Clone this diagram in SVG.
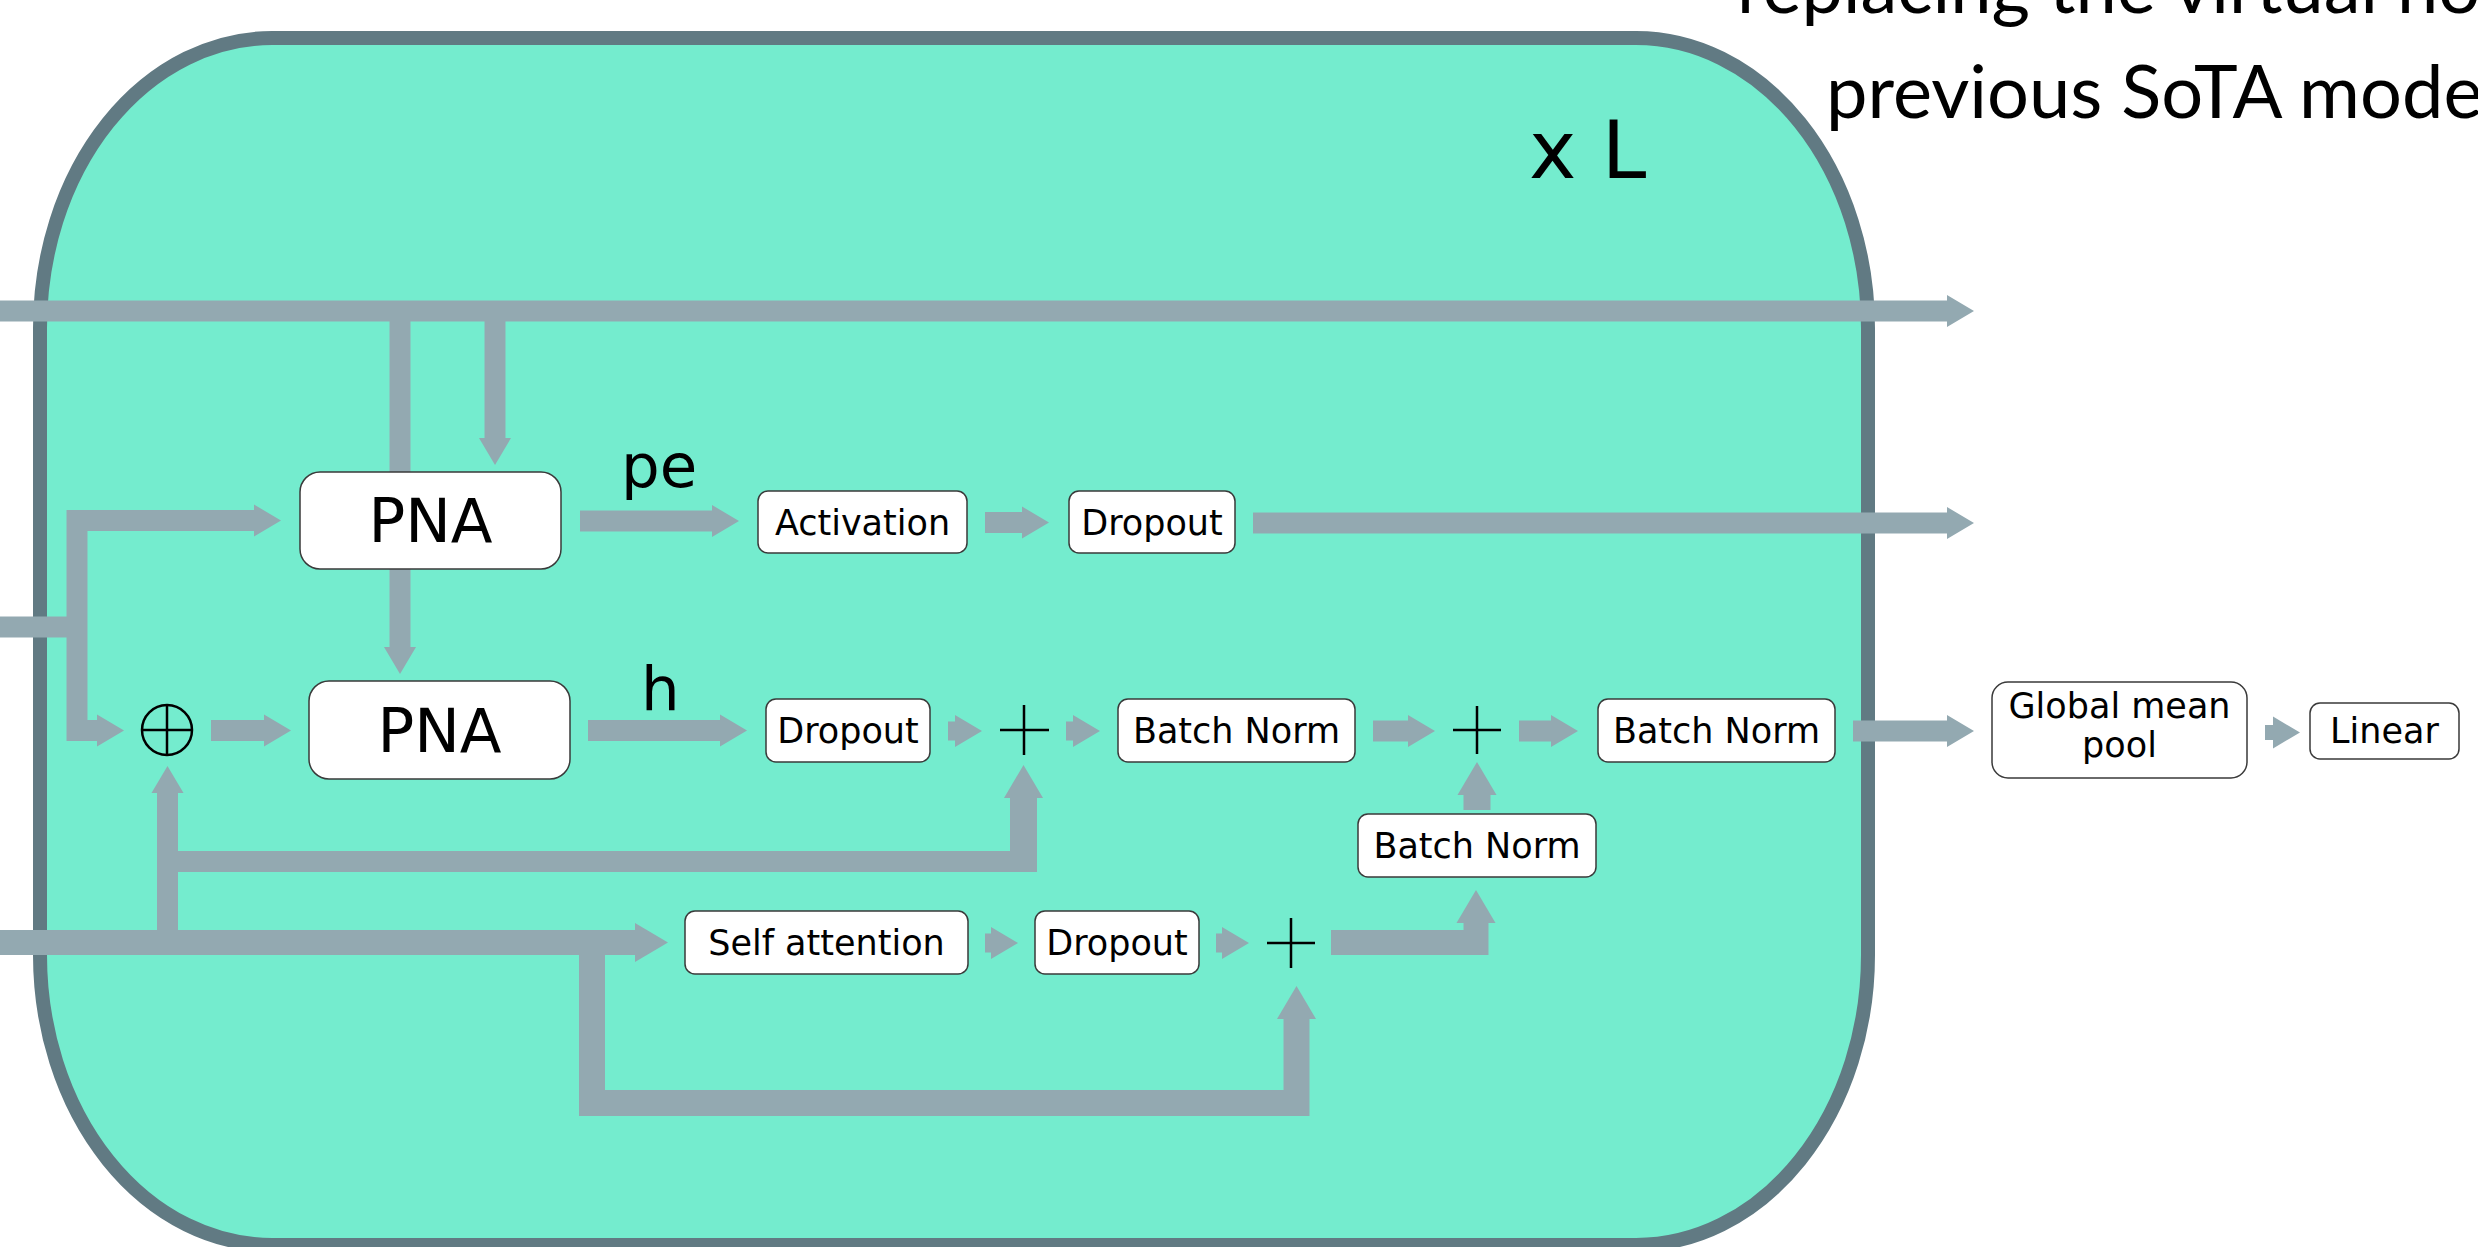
<svg xmlns="http://www.w3.org/2000/svg" width="2478" height="1247" viewBox="0 0 2478 1247">
<style>
.box{fill:#ffffff;stroke:#3a3a3a;stroke-width:1.5}
.lbl{font-family:"DejaVu Sans",sans-serif;font-size:35px;fill:#000;text-anchor:middle}
.big{font-family:"DejaVu Sans",sans-serif;font-size:61px;fill:#000}
.ln{fill:none;stroke:#93a9b1;stroke-linecap:butt;stroke-linejoin:miter}
.w21{stroke-width:21}
.w19{stroke-width:19}
.w25{stroke-width:25}
.w27{stroke-width:27}
.op{fill:none;stroke:#000;stroke-width:2.5}
.note{font-family:Lato,"Open Sans",sans-serif;font-size:74px;fill:#000}
</style>
<defs>
<marker id="ah" markerUnits="userSpaceOnUse" markerWidth="28" markerHeight="32" refX="0" refY="16" orient="auto" overflow="visible">
<path d="M0,0 L27,16 L0,32 Z" fill="#93a9b1"/>
</marker>
<marker id="ahb" markerUnits="userSpaceOnUse" markerWidth="34" markerHeight="40" refX="0" refY="19.5" orient="auto" overflow="visible">
<path d="M0,0 L33,19.5 L0,39 Z" fill="#93a9b1"/>
</marker>
</defs>
<rect width="2478" height="1247" fill="#ffffff"/>
<g id="text-note">
<text class="note" x="1737" y="13">replacing the virtual node</text>
<text class="note" x="1826" y="118">previous SoTA model</text>
</g>
<g id="container">
<rect x="40" y="38" width="1828" height="1207" rx="232" ry="290" fill="#74ecce" stroke="#617a83" stroke-width="14"/>
<text class="big" x="1529" y="178" style="font-size:80px">x L</text>
</g>
<g id="connectors">
<path class="ln w21" d="M0,311 H1947" marker-end="url(#ah)"/>
<path class="ln w21" d="M400,311 V647" marker-end="url(#ah)"/>
<path class="ln w21" d="M495,311 V438" marker-end="url(#ah)"/>
<path class="ln w21" d="M0,627 H80"/>
<path class="ln w21" d="M77,741 V520.5 H254" marker-end="url(#ah)"/>
<path class="ln w21" d="M67,730.5 H97" marker-end="url(#ah)"/>
<path class="ln w21" d="M211,730.5 H264" marker-end="url(#ah)"/>
<path class="ln w21" d="M167.5,955 V793" marker-end="url(#ah)"/>
<path class="ln w21" d="M157,861.5 H1037"/>
<path class="ln w27" d="M1023.5,872 V798" marker-end="url(#ahb)"/>
<path class="ln w21" d="M580,521 H712" marker-end="url(#ah)"/>
<path class="ln w21" d="M985,522.5 H1022" marker-end="url(#ah)"/>
<path class="ln w21" d="M1253,523 H1947" marker-end="url(#ah)"/>
<path class="ln w21" d="M588,730.5 H720" marker-end="url(#ah)"/>
<path class="ln w19" d="M948,731 H955" marker-end="url(#ah)"/>
<path class="ln w19" d="M1066,731 H1073" marker-end="url(#ah)"/>
<path class="ln w21" d="M1373,731 H1408" marker-end="url(#ah)"/>
<path class="ln w21" d="M1519,731 H1551" marker-end="url(#ah)"/>
<path class="ln w21" d="M1853,731 H1947" marker-end="url(#ah)"/>
<path class="ln" stroke-width="15" d="M2265,732.5 H2273" marker-end="url(#ah)"/>
<path class="ln w27" d="M1477,810 V795" marker-end="url(#ahb)"/>
<path class="ln w25" d="M0,942.5 H635" marker-end="url(#ahb)"/>
<path class="ln w19" d="M985,943 H991" marker-end="url(#ah)"/>
<path class="ln w19" d="M1216,943 H1222" marker-end="url(#ah)"/>
<path class="ln" stroke-width="26" d="M592,955 V1103 H1296.5 V1019" marker-end="url(#ahb)"/>
<path class="ln w25" d="M1331,942.5 H1476 V923" marker-end="url(#ahb)"/>
</g>
<g id="oplus">
<circle class="op" cx="167" cy="730" r="25"/>
<path class="op" d="M142,730 H192 M167,705 V755"/>
</g>
<g id="plus1"><path class="op" d="M1000,730 H1049 M1024,705 V755"/></g>
<g id="plus2"><path class="op" d="M1453,730 H1501 M1477,706 V754"/></g>
<g id="plus3"><path class="op" d="M1267,943 H1315 M1291,918 V968"/></g>
<g id="pna1">
<rect class="box" x="300" y="472" width="261" height="97" rx="20"/>
<text class="big" x="430.5" y="542" text-anchor="middle">PNA</text>
</g>
<g id="pna2">
<rect class="box" x="309" y="681" width="261" height="98" rx="20"/>
<text class="big" x="439.5" y="752" text-anchor="middle">PNA</text>
</g>
<g id="label-pe"><text class="big" x="621" y="487">pe</text></g>
<g id="label-h"><text class="big" x="641" y="710">h</text></g>
<g id="activation">
<rect class="box" x="758" y="491" width="209" height="62" rx="10"/>
<text class="lbl" x="862.5" y="535">Activation</text>
</g>
<g id="dropout1">
<rect class="box" x="1069" y="491" width="166" height="62" rx="10"/>
<text class="lbl" x="1152" y="535">Dropout</text>
</g>
<g id="dropout2">
<rect class="box" x="766" y="699" width="164" height="63" rx="10"/>
<text class="lbl" x="848" y="743">Dropout</text>
</g>
<g id="batchnorm1">
<rect class="box" x="1118" y="699" width="237" height="63" rx="10"/>
<text class="lbl" x="1236.5" y="743">Batch Norm</text>
</g>
<g id="batchnorm2">
<rect class="box" x="1598" y="699" width="237" height="63" rx="10"/>
<text class="lbl" x="1716.5" y="743">Batch Norm</text>
</g>
<g id="batchnorm3">
<rect class="box" x="1358" y="814" width="238" height="63" rx="10"/>
<text class="lbl" x="1477" y="858">Batch Norm</text>
</g>
<g id="selfattention">
<rect class="box" x="685" y="911" width="283" height="63" rx="10"/>
<text class="lbl" x="826.5" y="955">Self attention</text>
</g>
<g id="dropout3">
<rect class="box" x="1035" y="911" width="164" height="63" rx="10"/>
<text class="lbl" x="1117" y="955">Dropout</text>
</g>
<g id="globalmeanpool">
<rect class="box" x="1992" y="682" width="255" height="96" rx="16"/>
<text class="lbl" x="2119.5" y="718">Global mean</text>
<text class="lbl" x="2119.5" y="757">pool</text>
</g>
<g id="linear">
<rect class="box" x="2310" y="703" width="149" height="56" rx="10"/>
<text class="lbl" x="2384.5" y="743">Linear</text>
</g>
</svg>
